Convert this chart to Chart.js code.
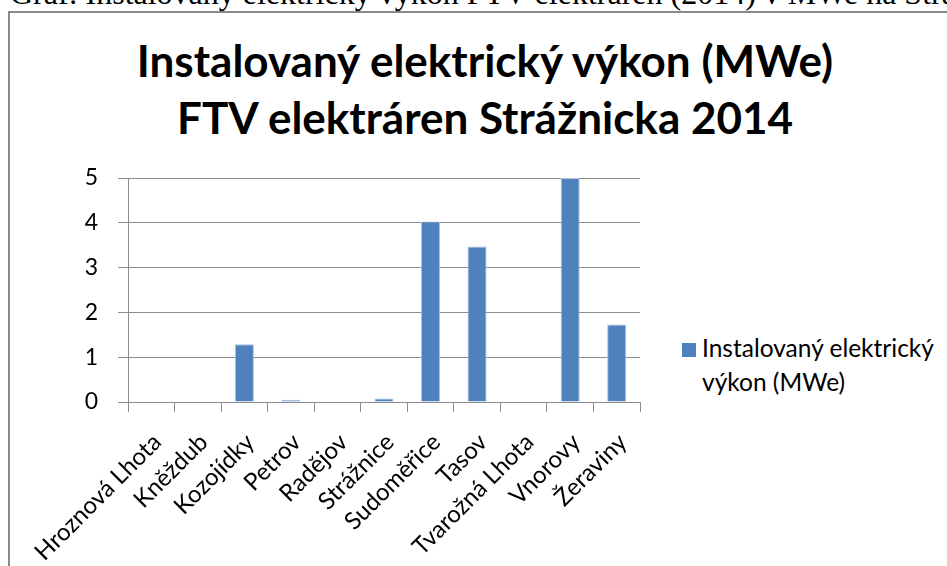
<!DOCTYPE html>
<html>
<head>
<meta charset="utf-8">
<script src="https://cdn.jsdelivr.net/npm/chart.js@4.4.1/dist/chart.umd.min.js"></script>
<style>
  html, body { margin: 0; padding: 0; background: #fff; overflow: hidden; }
  #wrap { position: relative; width: 947px; height: 566px; overflow: hidden; }
  #caption { position: absolute; left: 10px; top: -23px; font: 32px "Liberation Serif", serif; line-height: 32px; white-space: nowrap; color: #000; }
  #frame { position: absolute; left: 8px; top: 11px; width: 960px; height: 580px; border: 2px solid #8a8a8a; box-sizing: border-box; background: #fff; }
  #title { position: absolute; left: 0; width: 970px; top: 32px; text-align: center; font: bold 44px Lato, sans-serif; line-height: 57px; color: #000; }
  #legend { position: absolute; left: 682px; top: 331px; font: 24.5px Lato, sans-serif; line-height: 34px; color: #000; }
  #legend .box { display: inline-block; width: 14px; height: 14px; background: #4F81BD; margin-right: 6px; vertical-align: 0px; }
  #legend .l2 { padding-left: 20px; }
  canvas { position: absolute; left: 0; top: 0; }
</style>
</head>
<body>
<div id="wrap">
  <div id="caption">Graf: Instalovaný elektrický výkon FTV elektráren (2014) v MWe na Strážnicku</div>
  <div id="frame"></div>
  <div id="title">Instalovaný elektrický výkon (MWe)<br>FTV elektráren Strážnicka 2014</div>
  <div id="legend"><span class="box"></span>Instalovaný elektrický<br><span class="l2">výkon (MWe)</span></div>
  <canvas id="chart" width="947" height="566"></canvas>
</div>
<script>
const categories = ["Hroznová Lhota", "Kněždub", "Kozojídky", "Petrov", "Radějov", "Strážnice", "Sudoměřice", "Tasov", "Tvarožná Lhota", "Vnorovy", "Žeraviny"];
const powerMWe = [0, 0, 1.29, 0.05, 0, 0.08, 4.03, 3.47, 0, 5.0, 1.73];
const seriesName = "Instalovaný elektrický výkon (MWe)";

const gridColor = "#8c8c8c";

new Chart(document.getElementById("chart"), {
  type: "bar",
  data: {
    labels: categories,
    datasets: [{
      label: seriesName,
      data: powerMWe,
      backgroundColor: "#4F81BD",
      borderColor: "#a9c3e4",
      borderWidth: 1,
      barPercentage: 0.41,
      categoryPercentage: 1
    }]
  },
  options: {
    responsive: false,
    animation: false,
    layout: { padding: { top: 178, left: 0, right: 307, bottom: 0 } },
    plugins: {
      legend: { display: false },
      title: { display: false },
      tooltip: { enabled: false }
    },
    scales: {
      x: {
        afterFit: (s) => { s.height = 164; },
        grid: { drawOnChartArea: false, color: gridColor, tickLength: 10 },
        border: { color: gridColor },
        ticks: {
          color: "#000",
          font: { family: "Lato", size: 24 },
          maxRotation: 45,
          minRotation: 45,
          autoSkip: false,
          labelOffset: 6,
          padding: 16
        }
      },
      y: {
        min: 0,
        max: 5,
        afterFit: (s) => { s.width = 128; },
        grid: { color: gridColor, tickLength: 10 },
        border: { color: gridColor },
        ticks: {
          stepSize: 1,
          color: "#000",
          font: { family: "Lato", size: 23 },
          padding: 20
        }
      }
    }
  }
});
</script>
</body>
</html>
